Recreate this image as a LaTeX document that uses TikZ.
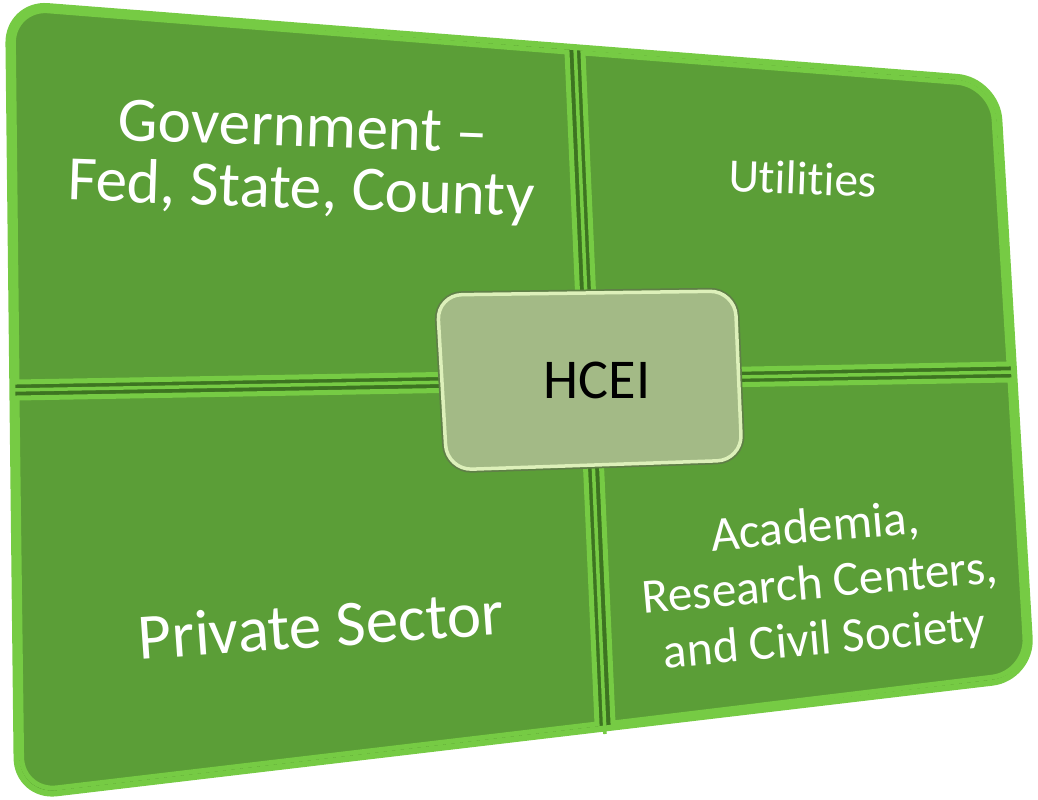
\documentclass[tikz,border=0pt]{standalone}
\usepackage{fontspec}
\setmainfont[Ligatures={TeX,NoCommon}]{Carlito}
\definecolor{face}{HTML}{5B9E37}
\definecolor{rim}{HTML}{76CB44}
\definecolor{groove}{HTML}{3D7421}
\definecolor{hceiface}{HTML}{A3BA86}
\definecolor{hceirim}{HTML}{DDF0BA}
\definecolor{hceiedge}{HTML}{5F7F47}

\begin{document}
\begin{tikzpicture}[x=0.02cm,y=-0.02cm,
  tile/.style={fill=face,draw=rim,line width=0.1cm},
  txt/.style={white,align=center}]
\useasboundingbox (0,0) rectangle (1038,800);
\filldraw[fill=groove,draw=rim,line width=0.12cm,rounded corners=0.8cm]
  (8,3) -- (997,80) -- (1032,678) -- (17,798) -- cycle;
\draw[rim,line width=0.07cm] (575,47) -- (605,734);
\draw[rim,line width=0.07cm] (12,390) -- (1015,372);
\draw[tile] (17,382) [rounded corners=0.7cm] -- (13,8) [sharp corners] -- (567,52) -- (581,372) -- cycle;
\draw[tile] (583,53) [rounded corners=0.7cm] -- (992,85) [sharp corners] -- (1009,364) -- (597,372) -- cycle;
\draw[tile] (1010,380) [rounded corners=0.7cm] -- (1027,673) [sharp corners] -- (613,723) -- (598,387) -- cycle;
\draw[tile] (597,724) [rounded corners=0.7cm] -- (22,792) [sharp corners] -- (17,398) -- (582,388) -- cycle;
\draw[hceiedge,line width=0.14cm,rounded corners=0.5cm] (437,295) -- (735,291) -- (742,460) -- (447,470) -- cycle;
\filldraw[fill=hceiface,draw=hceirim,line width=0.07cm,rounded corners=0.5cm] (437,295) -- (735,291) -- (742,460) -- (447,470) -- cycle;
\node[txt,rotate=-2,font=\fontsize{36}{35}\selectfont] (gov) at (302,162) {Government –\\Fed, State, County};
\node[txt,rotate=-2,font=\fontsize{27}{30}\selectfont] (util) at (803,178) {Utilities};
\node[txt,rotate=4,font=\fontsize{37}{40}\selectfont] (priv) at (321,625) {Private Sector};
\node[txt,rotate=5,font=\fontsize{28}{32}\selectfont] (acad) at (820,585) {Academia,\\Research Centers,\\and Civil Society};
\node[font=\fontsize{32}{34}\selectfont] (hcei) at (597,380) {HCEI};
\end{tikzpicture}
\end{document}
